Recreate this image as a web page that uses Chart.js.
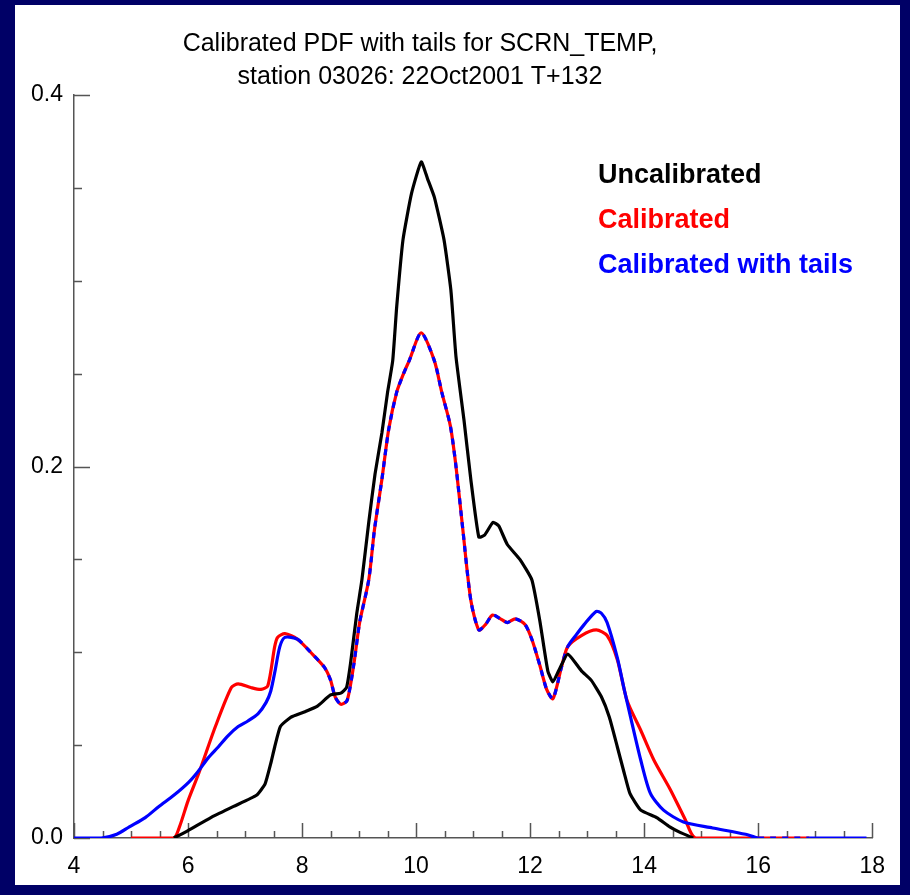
<!DOCTYPE html>
<html>
<head>
<meta charset="utf-8">
<script src="https://cdn.jsdelivr.net/npm/chart.js@4.4.1/dist/chart.umd.min.js"></script>
<style>
  html, body { margin: 0; padding: 0; background: #000066; }
  #frame { position: absolute; left: 15px; top: 5px; width: 885px; height: 880px; background: #fff; }
  canvas { display: block; }
</style>
</head>
<body>
<div id="frame"><canvas id="pdf" width="885" height="880"></canvas></div>
<script>
const titleLines = ['Calibrated PDF with tails for SCRN_TEMP,', 'station 03026: 22Oct2001 T+132'];
const seriesNames = ['Uncalibrated', 'Calibrated', 'Calibrated with tails'];
const seriesColors = ['#000000', '#ff0000', '#0000ff'];

// x labels shown at the major ticks, minor ticks every 0.5
const xTickLabels = [4, 6, 8, 10, 12, 14, 16, 18];
const yTickLabels = [0.0, 0.2, 0.4];

const uncalTemp = [5.75, 6.0, 6.4, 6.8, 7.2, 7.35, 7.45, 7.52, 7.62, 7.8, 8.05, 8.27, 8.5, 8.68, 8.78,
  8.85, 8.96, 9.05, 9.17, 9.28, 9.4, 9.5, 9.59, 9.66, 9.77, 9.92, 10.09, 10.2, 10.32, 10.49, 10.61,
  10.7, 10.84, 10.96, 11.1, 11.2, 11.35, 11.45, 11.6, 11.82, 12.03, 12.17, 12.31, 12.4, 12.5, 12.66,
  12.9, 13.07, 13.25, 13.39, 13.53, 13.65, 13.75, 13.94, 14.22, 14.45, 14.63, 14.86];
const uncalPdf = [0, 0.004, 0.011, 0.017, 0.023, 0.029, 0.04, 0.049, 0.06, 0.065, 0.068, 0.071, 0.077, 0.078, 0.081,
  0.094, 0.121, 0.139, 0.17, 0.196, 0.218, 0.24, 0.257, 0.286, 0.322, 0.347, 0.364, 0.355, 0.345, 0.322, 0.295,
  0.259, 0.225, 0.193, 0.162, 0.163, 0.17, 0.168, 0.158, 0.15, 0.139, 0.117, 0.09, 0.084, 0.09, 0.099,
  0.09, 0.085, 0.076, 0.065, 0.049, 0.035, 0.024, 0.015, 0.011, 0.006, 0.003, 0];

const calTemp = [5.0, 5.75, 5.85, 6.0, 6.19, 6.48, 6.76, 6.88, 7.1, 7.28, 7.4, 7.52, 7.57, 7.7, 7.92,
  8.15, 8.39, 8.5, 8.58, 8.68, 8.79, 8.91, 9.01, 9.17, 9.27, 9.4, 9.52, 9.66, 9.78, 9.88, 10.09,
  10.32, 10.45, 10.6, 10.7, 10.82, 10.96, 11.1, 11.22, 11.34, 11.48, 11.6, 11.74, 11.91, 12.03, 12.17,
  12.29, 12.4, 12.55, 12.66, 12.9, 13.16, 13.35, 13.53, 13.7, 13.94, 14.17, 14.46, 14.72, 14.9, 16.0, 16.9];
const calPdf = [0, 0, 0.006, 0.02, 0.035, 0.06, 0.081, 0.083, 0.081, 0.08, 0.082, 0.103, 0.108, 0.11, 0.107,
  0.1, 0.092, 0.085, 0.076, 0.072, 0.074, 0.094, 0.116, 0.139, 0.166, 0.193, 0.22, 0.24, 0.25, 0.257, 0.272,
  0.257, 0.24, 0.222, 0.2, 0.166, 0.128, 0.112, 0.115, 0.12, 0.118, 0.116, 0.118, 0.115, 0.107, 0.093,
  0.08, 0.075, 0.092, 0.103, 0.109, 0.112, 0.109, 0.096, 0.074, 0.058, 0.042, 0.026, 0.01, 0, 0, 0];

const tailTemp = [4.0, 4.48, 4.75, 4.97, 5.25, 5.49, 5.75, 6.01, 6.18, 6.35, 6.53, 6.7, 6.88, 7.05, 7.23,
  7.37, 7.45, 7.52, 7.61, 7.7, 7.92, 8.15, 8.39, 8.5, 8.58, 8.68, 8.79, 8.91, 9.01, 9.17, 9.27, 9.4,
  9.52, 9.66, 9.78, 9.88, 10.09, 10.32, 10.45, 10.6, 10.7, 10.82, 10.96, 11.1, 11.22, 11.34, 11.48, 11.6,
  11.74, 11.91, 12.03, 12.17, 12.29, 12.4, 12.55, 12.66, 12.8, 12.95, 13.16, 13.25, 13.35, 13.53, 13.65,
  13.77, 13.94, 14.11, 14.34, 14.69, 15.2, 15.78, 16.0, 16.9, 17.9];
const tailPdf = [0, 0, 0.002, 0.006, 0.011, 0.017, 0.023, 0.03, 0.036, 0.043, 0.049, 0.055, 0.06, 0.063, 0.067,
  0.073, 0.079, 0.089, 0.103, 0.108, 0.107, 0.1, 0.092, 0.085, 0.076, 0.072, 0.074, 0.094, 0.116, 0.139, 0.166, 0.193,
  0.22, 0.24, 0.25, 0.257, 0.272, 0.257, 0.24, 0.222, 0.2, 0.166, 0.128, 0.112, 0.115, 0.12, 0.118, 0.116,
  0.118, 0.115, 0.107, 0.093, 0.08, 0.075, 0.092, 0.103, 0.109, 0.115, 0.122, 0.121, 0.116, 0.097, 0.08,
  0.064, 0.042, 0.024, 0.015, 0.0086, 0.0054, 0.002, 0, 0, 0];

const axisColor = '#555555';
const font = "'Liberation Sans', Arial, sans-serif";

const toPoints = (xs, ys) => xs.map((x, i) => ({ x, y: ys[i] }));
const near = (a, b) => Math.abs(a - b) < 1e-6;

// where the tails curve lies on the calibrated one, draw it dashed so both colours show
const calLookup = new Map(calTemp.map((t, i) => [t, calPdf[i]]));
const onCal = p => calLookup.has(p.x) && near(calLookup.get(p.x), p.y);

// inward ticks, long at labelled values
const axisTicks = {
  id: 'axisTicks',
  beforeDatasetsDraw(chart) {
    const { ctx, chartArea: a, scales: { x, y } } = chart;
    ctx.save();
    ctx.strokeStyle = axisColor;
    ctx.lineWidth = 1.5;
    ctx.beginPath();
    x.ticks.forEach(t => {
      const px = Math.round(x.getPixelForValue(t.value)) + 0.5;
      const len = xTickLabels.some(v => near(v, t.value)) ? 15 : 7;
      ctx.moveTo(px, a.bottom);
      ctx.lineTo(px, a.bottom - len);
    });
    y.ticks.forEach(t => {
      const py = Math.round(y.getPixelForValue(t.value)) + 0.5;
      const len = yTickLabels.some(v => near(v, t.value)) ? 16 : 8;
      ctx.moveTo(a.left, py);
      ctx.lineTo(a.left + len, py);
    });
    ctx.stroke();
    ctx.restore();
  },
  afterDraw(chart) {
    const { ctx } = chart;
    ctx.save();
    ctx.fillStyle = '#000';
    ctx.textAlign = 'center';
    ctx.textBaseline = 'alphabetic';
    ctx.font = '25px ' + font;
    titleLines.forEach((line, i) => ctx.fillText(line, 405, 46 + i * 33));
    ctx.textAlign = 'left';
    ctx.font = 'bold 27px ' + font;
    seriesNames.forEach((name, i) => {
      ctx.fillStyle = seriesColors[i];
      ctx.fillText(name, 583, 178 + i * 45);
    });
    ctx.restore();
  }
};

new Chart(document.getElementById('pdf'), {
  type: 'line',
  data: {
    datasets: [
      {
        label: seriesNames[0],
        data: toPoints(uncalTemp, uncalPdf),
        borderColor: seriesColors[0],
        tension: 0.15,
        order: 0
      },
      {
        label: seriesNames[1],
        data: toPoints(calTemp, calPdf),
        borderColor: seriesColors[1],
        order: 2
      },
      {
        label: seriesNames[2],
        data: toPoints(tailTemp, tailPdf),
        borderColor: seriesColors[2],
        order: 1,
        segment: {
          borderDash: c => (onCal(c.p0.parsed) && onCal(c.p1.parsed)) ? [6, 6] : undefined
        }
      }
    ]
  },
  options: {
    responsive: false,
    animation: false,
    parsing: false,
    elements: {
      line: { borderWidth: 3.2, tension: 0.25, borderCapStyle: 'butt', borderJoinStyle: 'round' },
      point: { radius: 0, hoverRadius: 0 }
    },
    layout: { padding: { top: 90, right: 19, bottom: 0, left: 0 } },
    plugins: {
      legend: { display: false },
      title: { display: false },
      tooltip: { enabled: false }
    },
    scales: {
      x: {
        type: 'linear',
        min: 4,
        max: 18,
        afterFit: s => { s.height = 47; },
        grid: { display: true, drawOnChartArea: false, drawTicks: false },
        border: { display: true, color: axisColor, width: 1.5 },
        ticks: {
          stepSize: 0.5,
          autoSkip: false,
          maxRotation: 0,
          padding: 15,
          color: '#000',
          font: { family: font, size: 23 },
          callback: v => xTickLabels.some(t => near(t, v)) ? String(v) : ''
        }
      },
      y: {
        type: 'linear',
        min: 0,
        max: 0.4,
        afterFit: s => { s.width = 59; },
        grid: { display: true, drawOnChartArea: false, drawTicks: false },
        border: { display: true, color: axisColor, width: 1.5 },
        ticks: {
          stepSize: 0.05,
          autoSkip: false,
          padding: 11,
          color: '#000',
          font: { family: font, size: 23 },
          callback: v => yTickLabels.some(t => near(t, v)) ? v.toFixed(1) : ''
        }
      }
    }
  },
  plugins: [axisTicks]
});
</script>
</body>
</html>
